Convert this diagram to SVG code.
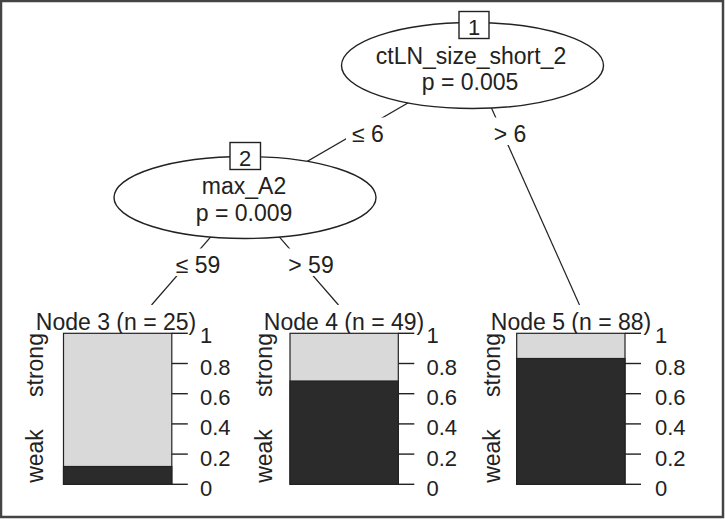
<svg xmlns="http://www.w3.org/2000/svg" width="725" height="519" viewBox="0 0 725 519">
<style>
text{font-family:"Liberation Sans",Arial,sans-serif;fill:#222;font-size:23px}
.c{text-anchor:middle}
.tk{font-size:22px}
.edge{stroke:#222;stroke-width:1.2;fill:none}
.lblbg{fill:#fff;stroke:none}
.inner{fill:#fff;stroke:#222;stroke-width:1.4}
.box{fill:#fff;stroke:#222;stroke-width:1.4}
.light{fill:#d9d9d9;stroke:#222;stroke-width:1.2}
.dark{fill:#2b2b2b;stroke:#222;stroke-width:1.2}
.tick{stroke:#222;stroke-width:1.4}
</style>
<rect x="0" y="0" width="725" height="519" fill="#fff"/>
<rect x="1" y="1" width="722" height="516" fill="none" stroke="#444" stroke-width="2.5"/>
<g id="connectors">
  <line class="edge" x1="472.5" y1="65.5" x2="245" y2="197.5"/>
  <line class="edge" x1="472.5" y1="65.5" x2="579.5" y2="305"/>
  <line class="edge" x1="245" y1="197.5" x2="151.5" y2="305"/>
  <line class="edge" x1="245" y1="197.5" x2="338.5" y2="305"/>
  <rect class="lblbg" x="346" y="117.5" width="44" height="27.5"/>
  <text class="c" x="368" y="141.5">≤ 6</text>
  <rect class="lblbg" x="490" y="117.5" width="40" height="27.5"/>
  <text class="c" x="510" y="141.5">&gt; 6</text>
  <rect class="lblbg" x="170" y="248.5" width="56" height="27.5"/>
  <text class="c" x="198" y="273">≤ 59</text>
  <rect class="lblbg" x="285" y="248.5" width="52" height="27.5"/>
  <text class="c" x="311" y="273">&gt; 59</text>
</g>
<g id="node1">
  <ellipse class="inner" cx="472.5" cy="65.5" rx="131" ry="43"/>
  <rect class="box" x="459" y="11.5" width="30" height="27"/>
  <text class="c" x="474" y="34.5" style="font-size:22px">1</text>
  <text class="c" x="471" y="63.5">ctLN_size_short_2</text>
  <text class="c" x="470" y="90">p = 0.005</text>
</g>
<g id="node2">
  <ellipse class="inner" cx="245" cy="197.5" rx="131" ry="41"/>
  <rect class="box" x="230" y="142.5" width="30.5" height="27"/>
  <text class="c" x="245" y="165.5" style="font-size:22px">2</text>
  <text class="c" x="244" y="193.5">max_A2</text>
  <text class="c" x="244" y="221">p = 0.009</text>
</g>
<g id="node3">
  <rect x="30" y="305" width="200" height="30" fill="#fff"/>
  <text class="c" x="116" y="330">Node 3 (n = 25)</text>
  <rect class="light" x="63.5" y="333.3" width="108.3" height="151"/>
  <rect class="dark" x="63.5" y="466.5" width="108.3" height="17.8"/>
  <g class="tick">
    <line x1="171.8" y1="333.3" x2="187.8" y2="333.3"/>
    <line x1="171.8" y1="363.5" x2="187.8" y2="363.5"/>
    <line x1="171.8" y1="393.7" x2="187.8" y2="393.7"/>
    <line x1="171.8" y1="423.9" x2="187.8" y2="423.9"/>
    <line x1="171.8" y1="454.1" x2="187.8" y2="454.1"/>
    <line x1="171.8" y1="484.3" x2="187.8" y2="484.3"/>
  </g>
  <text class="tk" x="200" y="343">1</text>
  <text class="tk" x="200" y="375">0.8</text>
  <text class="tk" x="200" y="405.2">0.6</text>
  <text class="tk" x="200" y="435.4">0.4</text>
  <text class="tk" x="200" y="465.6">0.2</text>
  <text class="tk" x="200" y="495.8">0</text>
  <text class="c" transform="translate(42.5,365) rotate(-90)">strong</text>
  <text class="c" transform="translate(42.5,456) rotate(-90)">weak</text>
</g>
<g id="node4">
  <rect x="258" y="305" width="172" height="30" fill="#fff"/>
  <text class="c" x="344" y="330">Node 4 (n = 49)</text>
  <rect class="light" x="290" y="333.3" width="108.3" height="151"/>
  <rect class="dark" x="290" y="381" width="108.3" height="103.3"/>
  <g class="tick">
    <line x1="398.3" y1="333.3" x2="414.3" y2="333.3"/>
    <line x1="398.3" y1="363.5" x2="414.3" y2="363.5"/>
    <line x1="398.3" y1="393.7" x2="414.3" y2="393.7"/>
    <line x1="398.3" y1="423.9" x2="414.3" y2="423.9"/>
    <line x1="398.3" y1="454.1" x2="414.3" y2="454.1"/>
    <line x1="398.3" y1="484.3" x2="414.3" y2="484.3"/>
  </g>
  <text class="tk" x="426.5" y="343">1</text>
  <text class="tk" x="426.5" y="375">0.8</text>
  <text class="tk" x="426.5" y="405.2">0.6</text>
  <text class="tk" x="426.5" y="435.4">0.4</text>
  <text class="tk" x="426.5" y="465.6">0.2</text>
  <text class="tk" x="426.5" y="495.8">0</text>
  <text class="c" transform="translate(272,365) rotate(-90)">strong</text>
  <text class="c" transform="translate(272,456) rotate(-90)">weak</text>
</g>
<g id="node5">
  <rect x="485" y="305" width="172" height="30" fill="#fff"/>
  <text class="c" x="571" y="330">Node 5 (n = 88)</text>
  <rect class="light" x="516.7" y="333.3" width="108.3" height="151"/>
  <rect class="dark" x="516.7" y="358.5" width="108.3" height="125.8"/>
  <g class="tick">
    <line x1="625" y1="333.3" x2="641" y2="333.3"/>
    <line x1="625" y1="363.5" x2="641" y2="363.5"/>
    <line x1="625" y1="393.7" x2="641" y2="393.7"/>
    <line x1="625" y1="423.9" x2="641" y2="423.9"/>
    <line x1="625" y1="454.1" x2="641" y2="454.1"/>
    <line x1="625" y1="484.3" x2="641" y2="484.3"/>
  </g>
  <text class="tk" x="655" y="343">1</text>
  <text class="tk" x="655" y="375">0.8</text>
  <text class="tk" x="655" y="405.2">0.6</text>
  <text class="tk" x="655" y="435.4">0.4</text>
  <text class="tk" x="655" y="465.6">0.2</text>
  <text class="tk" x="655" y="495.8">0</text>
  <text class="c" transform="translate(500,365) rotate(-90)">strong</text>
  <text class="c" transform="translate(500,456) rotate(-90)">weak</text>
</g>
</svg>
